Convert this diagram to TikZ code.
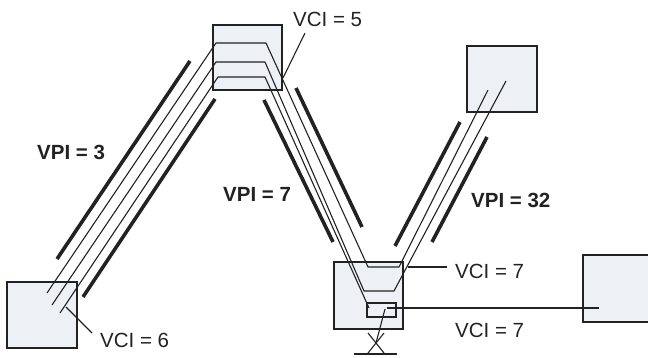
\documentclass[tikz,border=0pt]{standalone}
\usepackage{fontspec}
\setmainfont{Liberation Sans}
\definecolor{boxfill}{HTML}{EDF1F5}
\definecolor{ink}{HTML}{222222}

\begin{document}
\begin{tikzpicture}[
  x=1pt, y=-1pt,
  box/.style={draw=ink, line width=2.6pt, fill=boxfill, minimum width=70pt, minimum height=66pt, inner sep=0pt},
  wall/.style={draw=ink, line width=3.6pt},
  vc/.style={draw=ink, line width=1.1pt, line join=round},
  vpi/.style={font=\fontsize{20.5}{24}\selectfont\bfseries, text=ink, inner sep=0pt, anchor=base west},
  vci/.style={font=\fontsize{20.5}{24}\selectfont, text=ink, inner sep=0pt, anchor=base west}
]
\useasboundingbox (0,0) rectangle (648,358);

% end points and switches
\node[box] (endA) at (42,315) {};
\node[box, minimum width=69pt, minimum height=65pt] (swB) at (247.5,57.5) {};
\node[box, minimum width=69pt, minimum height=67pt] (swC) at (368.5,295.5) {};
\node[box] (endD) at (502,79) {};
\node[box, minimum width=80pt, minimum height=67pt] (endE) at (623,288.5) {};

% virtual paths
\draw[wall] (57,259) -- (190,61);
\draw[wall] (83,297) -- (215,99);
\draw[wall] (264,100) -- (333,242);
\draw[wall] (296,88) -- (362,227);
\draw[wall] (395,246) -- (460,122);
\draw[wall] (432,242) -- (487,137);

% virtual channels
\draw[vc] (47,293) -- (216,43) -- (266,43) -- (368,267) -- (399,267) -- (488,90);
\draw[vc] (52,305) -- (216,62) -- (265,62) -- (364,291) -- (394,291) -- (506,81);
\draw[vc] (60,313) -- (218,77) -- (265,77) -- (369,308);
\node[draw=ink, line width=1.1pt, minimum width=29pt, minimum height=14pt, inner sep=0pt] (port) at (381.5,310) {};
\draw[vc] (387,308) -- (599,308);
\draw[vc] (385,309) -- (376,343);
\draw[vc] (368,333) -- (384,353);
\draw[vc] (384,333) -- (368,353);
\draw[vc] (354,354) -- (397,354);

% labels
\node[vpi] (vpi3) at (37,160) {VPI = 3};
\node[vpi] (vpi7) at (223,201.5) {VPI = 7};
\node[vpi] (vpi32) at (471,208) {VPI = 32};
\node[vci] (vci5) at (293,27) {VCI = 5};
\node[vci] (vci6) at (100,347) {VCI = 6};
\node[vci] (vci7a) at (455,278) {VCI = 7};
\node[vci] (vci7b) at (455,337) {VCI = 7};
\draw[vc] (305,33) -- (283,78);
\draw[vc] (66,307) -- (92,333);
\draw[vc] (408,267) -- (447,267);
\end{tikzpicture}
\end{document}
